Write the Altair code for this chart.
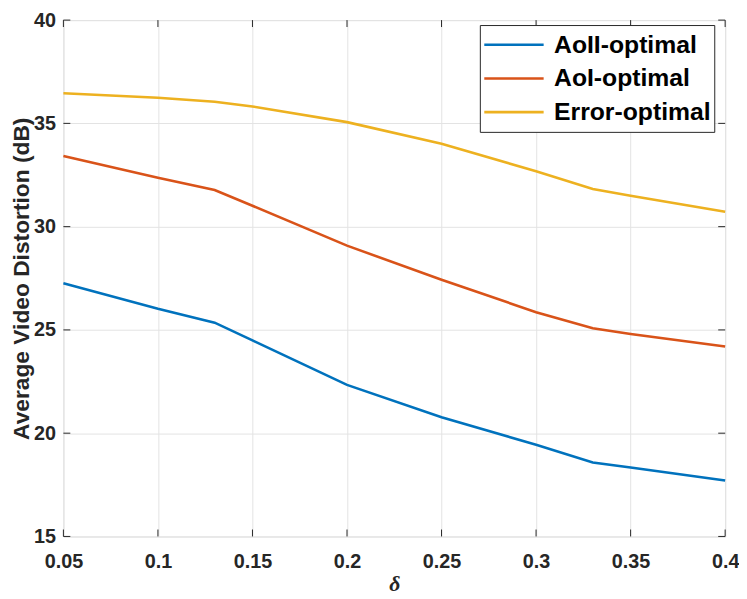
import altair as alt
import pandas as pd

delta = [0.05, 0.10, 0.13, 0.15, 0.20, 0.25, 0.30, 0.33, 0.35, 0.40]
aoii = [27.26, 26.02, 25.35, 24.49, 22.34, 20.77, 19.44, 18.58, 18.34, 17.71]
aoi = [33.42, 32.37, 31.77, 31.01, 29.08, 27.43, 25.86, 25.08, 24.80, 24.20]
err = [36.46, 36.24, 36.05, 35.82, 35.06, 34.01, 32.68, 31.82, 31.50, 30.72]
series = ["AoII-optimal", "AoI-optimal", "Error-optimal"]
colors = ["#0072BD", "#D95319", "#EDB120"]
x_ticks = [0.05, 0.1, 0.15, 0.2, 0.25, 0.3, 0.35, 0.4]
y_ticks = [15, 20, 25, 30, 35, 40]

W, H = 669, 522
TL = 7
FRAME = "#262626"
FONT = "Liberation Sans"

rows = []
for name, vals in zip(series, [aoii, aoi, err]):
    for d, v in zip(delta, vals):
        rows.append({"delta": d, "value": v, "series": name})
df = pd.DataFrame(rows)
xt = pd.DataFrame({"t": x_ticks})
yt = pd.DataFrame({"t": y_ticks})

xscale = alt.Scale(domain=[0.05, 0.4], nice=False, zero=False)
yscale = alt.Scale(domain=[15, 40], nice=False, zero=False)

xaxis = alt.Axis(values=x_ticks, format="~g", grid=True, gridColor="#e3e3e3", gridWidth=1,
                 ticks=False, domain=False, labelFont=FONT, labelFontSize=20, labelFontWeight="bold",
                 labelColor=FRAME, labelPadding=15, title="δ", titleFont="Liberation Serif",
                 titleFontStyle="italic", titleFontWeight="bold", titleFontSize=22, titleColor=FRAME,
                 titlePadding=3, labelFlush=False)
yaxis = alt.Axis(values=y_ticks, grid=True, gridColor="#e3e3e3", gridWidth=1,
                 ticks=False, domain=False, labelFont=FONT, labelFontSize=20, labelFontWeight="bold",
                 labelColor=FRAME, labelPadding=8, title="Average Video Distortion (dB)",
                 titleFont=FONT, titleFontWeight="bold", titleFontSize=23, titleColor=FRAME,
                 titlePadding=0)

lines = alt.Chart(df).mark_line(strokeWidth=2.6).encode(
    x=alt.X("delta:Q", scale=xscale, axis=xaxis),
    y=alt.Y("value:Q", scale=yscale, axis=yaxis),
    color=alt.Color("series:N", scale=alt.Scale(domain=series, range=colors), sort=series,
                    legend=alt.Legend(title=None, orient="none", legendX=421, legendY=5,
                                      fillColor="white", strokeColor=FRAME,
                                      padding=3, labelFont=FONT, labelFontSize=25,
                                      labelFontWeight="bold", labelColor="black",
                                      symbolType="stroke", symbolSize=3600, symbolStrokeWidth=2.6,
                                      labelOffset=9, rowPadding=0, clipHeight=34)),
)

tick_style = dict(color=FRAME, strokeWidth=1)
xb = alt.Chart(xt).mark_rule(**tick_style).encode(x=alt.X("t:Q", scale=xscale), y=alt.value(H), y2=alt.value(H - TL))
xtp = alt.Chart(xt).mark_rule(**tick_style).encode(x=alt.X("t:Q", scale=xscale), y=alt.value(0), y2=alt.value(TL))
yl = alt.Chart(yt).mark_rule(**tick_style).encode(y=alt.Y("t:Q", scale=yscale), x=alt.value(0), x2=alt.value(TL))
yr = alt.Chart(yt).mark_rule(**tick_style).encode(y=alt.Y("t:Q", scale=yscale), x=alt.value(W), x2=alt.value(W - TL))

chart = alt.layer(lines, xb, xtp, yl, yr).properties(
    width=W, height=H,
    autosize=alt.AutoSizeParams(type="none"),
    padding={"left": 56, "top": 9, "right": 14, "bottom": 60},
).configure_view(stroke=FRAME, strokeWidth=1.3).configure_legend(strokeWidth=1).configure(background="white")

chart.save("out.html", embed_options={"renderer": "svg", "actions": False})
